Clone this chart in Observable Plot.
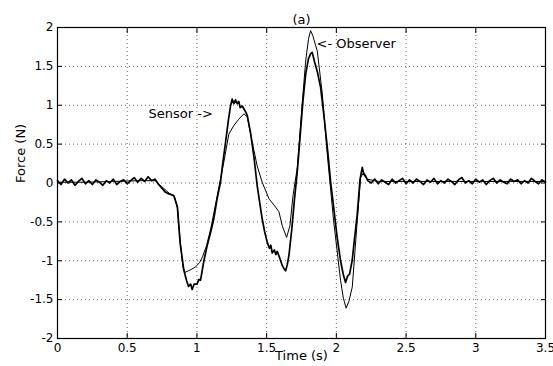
<!DOCTYPE html>
<html><head><meta charset="utf-8">
<script src="https://cdn.jsdelivr.net/npm/d3@7"></script>
<script src="https://cdn.jsdelivr.net/npm/@observablehq/plot@0.6"></script>
<style>body{margin:0;background:#fff}#chart{width:553px;height:366px}</style>
</head><body><div id="chart"></div>
<script>
const xTicks = [0, 0.5, 1, 1.5, 2, 2.5, 3, 3.5];
const yTicks = [-2, -1.5, -1, -0.5, 0, 0.5, 1, 1.5, 2];

// Sensor (measured force) - quiet start, transient, quiet end
const sensorTimeA = [0,.025,.05,.075,.1,.125,.15,.175,.2,.225,.25,.275,.3,.325,.35,.375,.4,.425,.45,.475,.5,.525,.55,.575,.6,.625,.65,.675,.7,.725,.75,.775,.8];
const sensorForceA = [0.03,-0.02,0.05,0.0,0.04,-0.03,0.02,0.06,-0.01,0.03,-0.02,0.04,0.01,-0.03,0.03,0.0,0.05,-0.02,0.02,0.04,-0.01,0.03,0.07,0.01,0.06,0.02,0.08,0.03,0.05,-0.02,-0.07,-0.12,-0.14];
const sensorTimeB = [0.834,0.86,0.88,0.906,0.925,0.94,0.955,0.966,0.98,1.0,
  1.015,1.026,1.05,1.074,1.1,1.121,1.145,1.169,1.187,1.205,
  1.225,1.241,1.253,1.265,1.277,1.289,1.3,1.31,1.325,1.345,
  1.361,1.384,1.408,1.432,1.45,1.468,1.486,1.504,1.52,1.53,
  1.54,1.555,1.566,1.576,1.595,1.612,1.624,1.636,1.648,1.66,
  1.68,1.7,1.72,1.74,1.76,1.78,1.8,1.815,1.827,1.845,
  1.865,1.887,1.91,1.935,1.96,1.985,2.006,2.03,2.05,2.066,
  2.08,2.095,2.114,2.13,2.15,2.17,2.186,2.195,2.21,2.225];
const sensorForceB = [-0.16,-0.31,-0.78,-1.12,-1.25,-1.33,-1.30,-1.37,-1.30,-1.30,
  -1.24,-1.25,-1.0,-0.80,-0.62,-0.46,-0.2,0.01,0.28,0.52,
  0.80,0.99,1.08,1.02,1.07,1.02,1.05,0.97,0.99,0.93,
  0.87,0.65,0.35,-0.03,-0.25,-0.46,-0.63,-0.76,-0.84,-0.80,
  -0.90,-0.86,-0.92,-0.88,-0.97,-1.06,-1.10,-1.13,-1.05,-0.93,
  -0.6,-0.2,0.15,0.6,1.05,1.40,1.60,1.66,1.68,1.55,
  1.42,1.23,0.88,0.46,0.0,-0.38,-0.70,-1.0,-1.18,-1.28,
  -1.20,-1.17,-0.99,-0.72,-0.40,0.05,0.20,0.13,0.09,0.03];
const sensorTimeC = [2.25,2.275,2.3,2.325,2.35,2.375,2.4,2.425,2.45,2.475,2.5,2.525,2.55,2.575,2.6,2.625,2.65,2.675,2.7,2.725,2.75,2.775,2.8,2.825,2.85,2.875,2.9,2.925,2.95,2.975,3,3.025,3.05,3.075,3.1,3.125,3.15,3.175,3.2,3.225,3.25,3.275,3.3,3.325,3.35,3.375,3.4,3.425,3.45,3.475,3.5];
const sensorForceC = [0.0,0.05,-0.01,0.04,0.01,-0.02,0.05,0.0,0.03,0.06,-0.01,0.04,0.0,0.05,0.02,-0.02,0.04,0.01,0.06,-0.01,0.03,0.0,0.05,0.02,-0.02,0.04,0.07,0.0,0.03,-0.01,0.05,0.01,0.04,-0.02,0.03,0.06,0.0,0.04,0.01,-0.01,0.05,0.02,0.04,-0.01,0.03,0.0,0.06,0.02,-0.01,0.04,0.01];

// Observer (estimated force)
const observerTime = [0,0.2,0.4,0.6,0.7,0.75,0.8,0.84,0.86,0.88,
  0.9,0.913,0.95,0.99,1.02,1.04,1.07,1.10,1.146,1.193,
  1.229,1.265,1.30,1.337,1.361,1.397,1.432,1.468,1.516,1.564,
  1.588,1.612,1.643,1.667,1.69,1.72,1.755,1.78,1.80,1.815,
  1.83,1.863,1.899,1.935,1.98,2.03,2.05,2.07,2.09,2.114,
  2.15,2.174,2.19,2.22,2.3,2.6,3.0,3.5];
const observerForce = [0.01,0.01,0.02,0.03,0.03,-0.05,-0.13,-0.18,-0.32,-0.75,
  -1.08,-1.15,-1.12,-1.08,-1.02,-0.95,-0.80,-0.58,-0.16,0.27,
  0.63,0.74,0.82,0.89,0.85,0.52,0.22,0.01,-0.20,-0.31,
  -0.37,-0.55,-0.70,-0.55,-0.15,0.2,1.02,1.57,1.85,1.96,
  1.90,1.70,1.15,0.37,-0.48,-1.25,-1.48,-1.61,-1.52,-1.34,
  -0.48,0.07,0.12,0.05,0.02,0.02,0.02,0.02];

const noteLabels = ["Sensor ->", "<- Observer"];
const noteTime = [0.653, 1.858];
const noteForce = [0.89, 1.795];

const sensorTime = sensorTimeA.concat(sensorTimeB, sensorTimeC);
const sensorForce = sensorForceA.concat(sensorForceB, sensorForceC);
const sensor = sensorTime.map((t, i) => ({t, f: sensorForce[i]}));
const observer = observerTime.map((t, i) => ({t, f: observerForce[i]}));
const notes = noteLabels.map((label, i) => ({label, t: noteTime[i], f: noteForce[i]}));

const fmt = d => String(d);
const chart = Plot.plot({
  width: 553, height: 366,
  marginLeft: 57, marginRight: 8, marginTop: 27, marginBottom: 28,
  style: {fontFamily: "DejaVu Sans", fontSize: "12px", background: "#fff", color: "#000"},
  x: {domain: [0, 3.5]},
  y: {domain: [-2, 2]},
  marks: [
    Plot.gridX(xTicks, {stroke: "#000", strokeOpacity: 0.6, strokeDasharray: "1,3"}),
    Plot.gridY(yTicks, {stroke: "#000", strokeOpacity: 0.6, strokeDasharray: "1,3"}),
    Plot.axisX(xTicks, {anchor: "bottom", tickSize: 0, tickPadding: 5, tickFormat: fmt, label: null}),
    Plot.axisX(xTicks, {anchor: "bottom", tickSize: -5, fill: "none", label: null}),
    Plot.axisX(xTicks, {anchor: "top", tickSize: -5, fill: "none", label: null}),
    Plot.axisY(yTicks, {anchor: "left", tickSize: 0, tickPadding: 4, tickFormat: fmt, label: null}),
    Plot.axisY(yTicks, {anchor: "left", tickSize: -5, fill: "none", label: null}),
    Plot.axisY(yTicks, {anchor: "right", tickSize: -5, fill: "none", label: null}),
    Plot.line(observer, {x: "t", y: "f", stroke: "#000", strokeWidth: 1}),
    Plot.line(sensor, {x: "t", y: "f", stroke: "#000", strokeWidth: 1.7}),
    Plot.frame({stroke: "#000", strokeWidth: 1.2}),
    Plot.text(notes, {x: "t", y: "f", text: "label", textAnchor: "start", fontSize: 13}),
    Plot.text(["(a)"], {frameAnchor: "top", dy: -13, fontSize: 13}),
    Plot.text(["Time (s)"], {frameAnchor: "bottom", dy: 21, fontSize: 13}),
    Plot.text(["Force (N)"], {frameAnchor: "left", dx: -37, rotate: -90, fontSize: 13})
  ]
});
document.getElementById("chart").appendChild(chart);
</script>
</body></html>
